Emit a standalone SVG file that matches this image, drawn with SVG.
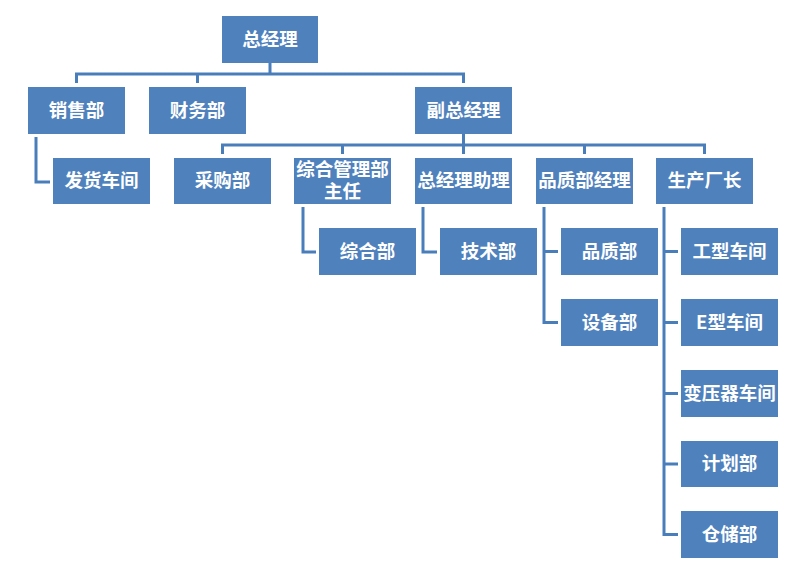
<svg xmlns="http://www.w3.org/2000/svg" width="812" height="582" viewBox="0 0 812 582">
<style>
.n rect{fill:#4F81BD;}
.n text{fill:#FFFFFF;font-family:"Noto Sans CJK SC","Liberation Sans",sans-serif;font-size:18.5px;font-weight:bold;text-anchor:middle;}
.c path{fill:none;stroke:#4A7EBB;stroke-width:3;}
</style>
<rect width="812" height="582" fill="#FFFFFF"/>
<g id="connectors" class="c">
<path d="M270,63 V74 M76.5,83 V74 H463.5 V83 M197.5,74 V83"/>
<path d="M463.5,134 V154 M222.5,154 V145 H704.5 V154 M342.5,145 V154 M584.5,145 V154"/>
<path d="M36,137 V182 H50"/>
<path d="M303,207 V252 H316"/>
<path d="M423,207 V252 H437"/>
<path d="M544,207 V322.5 H558 M544,251.5 H558"/>
<path d="M664,207 V534.5 H678 M664,251.5 H678 M664,322.5 H678 M664,393.5 H678 M664,464 H678"/>
</g>
<g id="n-zjl" class="n"><rect x="222" y="16" width="96" height="47"/><text x="270" y="45.5">总经理</text></g>
<g id="n-xsb" class="n"><rect x="28" y="87" width="97" height="47"/><text x="76.5" y="116.5">销售部</text></g>
<g id="n-cwb" class="n"><rect x="149" y="87" width="97" height="47"/><text x="197.5" y="116.5">财务部</text></g>
<g id="n-fzjl" class="n"><rect x="415" y="87" width="97" height="47"/><text x="463.5" y="116.5">副总经理</text></g>
<g id="n-fhcj" class="n"><rect x="53" y="158" width="97" height="46"/><text x="101.5" y="187">发货车间</text></g>
<g id="n-cgb" class="n"><rect x="174" y="158" width="97" height="46"/><text x="222.5" y="187">采购部</text></g>
<g id="n-zhglb" class="n"><rect x="294" y="158" width="97" height="46"/><text x="342.5" y="176"><tspan x="342.5" y="176">综合管理部</tspan><tspan x="342.5" y="198">主任</tspan></text></g>
<g id="n-zjlzl" class="n"><rect x="415" y="158" width="97" height="46"/><text x="463.5" y="187">总经理助理</text></g>
<g id="n-pzbjl" class="n"><rect x="536" y="158" width="97" height="46"/><text x="584.5" y="187">品质部经理</text></g>
<g id="n-sccz" class="n"><rect x="656" y="158" width="97" height="46"/><text x="704.5" y="187">生产厂长</text></g>
<g id="n-zhb" class="n"><rect x="319" y="228" width="97" height="47"/><text x="367.5" y="257.5">综合部</text></g>
<g id="n-jsb" class="n"><rect x="440" y="228" width="97" height="47"/><text x="488.5" y="257.5">技术部</text></g>
<g id="n-pzb" class="n"><rect x="561" y="228" width="97" height="47"/><text x="609.5" y="257.5">品质部</text></g>
<g id="n-sbb" class="n"><rect x="561" y="299" width="97" height="47"/><text x="609.5" y="328.5">设备部</text></g>
<g id="n-gxcj" class="n"><rect x="681" y="228" width="97" height="47"/><text x="729.5" y="257.5">工型车间</text></g>
<g id="n-excj" class="n"><rect x="681" y="299" width="97" height="47"/><text x="729.5" y="328.5">E型车间</text></g>
<g id="n-byqcj" class="n"><rect x="681" y="370" width="97" height="47"/><text x="729.5" y="399.5">变压器车间</text></g>
<g id="n-jhb" class="n"><rect x="681" y="441" width="97" height="46"/><text x="729.5" y="470">计划部</text></g>
<g id="n-ccb" class="n"><rect x="681" y="511" width="97" height="47"/><text x="729.5" y="540.5">仓储部</text></g>
</svg>
